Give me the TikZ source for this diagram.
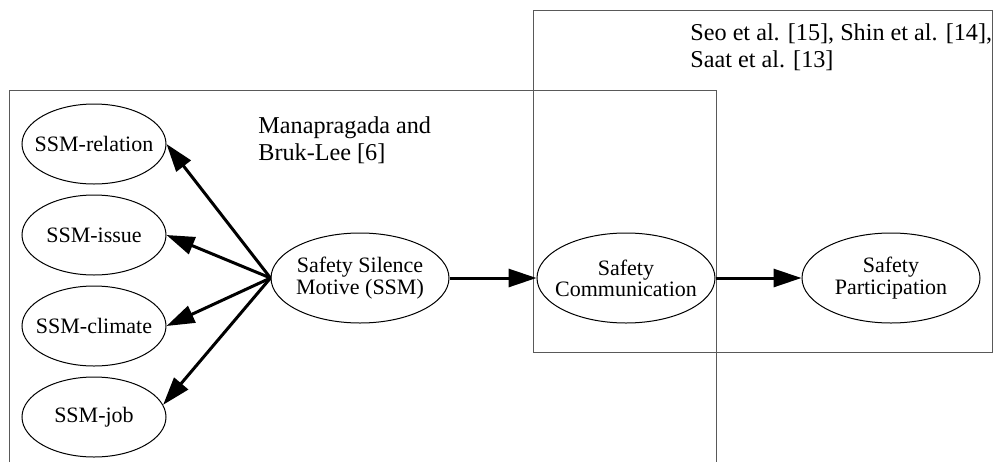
\documentclass[tikz,border=0pt]{standalone}
\usepackage{fontspec}
\setmainfont{Liberation Serif}
\usetikzlibrary{shapes.geometric,arrows.meta}

\begin{document}
\begin{tikzpicture}[x=0.5pt,y=-0.5pt]

      \useasboundingbox (0,0) rectangle (993,462);

      \begin{scope}[draw=black!65, line width=0.5pt]
        \draw (9,462) |- (716,90) -- (716,462);
        \draw (533,10) rectangle (992,352);
      \end{scope}

      \begin{scope}[every node/.style={anchor=north west, inner sep=0pt, align=left, font=\fontsize{12.1}{13.8}\selectfont}]
        \node (manlabel) at (258,116) {Manapragada and\\Bruk-Lee [6]};
        \node (seolabel) at (690,23)  {Seo et al. [15], Shin et al. [14],\\Saat et al. [13]};
      \end{scope}

      \begin{scope}[every node/.style={ellipse, draw, line width=0.5pt, inner xsep=-8pt, inner ysep=0pt,
          minimum width=72pt, minimum height=40pt, align=center, font=\fontsize{11}{10.6}\selectfont}]
        \node (rel)  at (94,144)  {SSM-relation};
        \node (iss)  at (94,235)  {SSM-issue};
        \node (cli)  at (94,326)  {SSM-climate};
        \node (job)  at (94,417)  {SSM-job};
        \node[minimum width=89pt, minimum height=45pt] (ssm)  at (360,278) {Safety Silence\\Motive (SSM)};
        \node[minimum width=89pt, minimum height=45pt] (comm) at (626,278) {Safety\\Communication};
        \node[minimum width=89pt, minimum height=45pt] (part) at (891,278) {Safety\\Participation};
      \end{scope}

      \begin{scope}[every edge/.style={draw, line width=1.5pt, -{Triangle[length=14pt,width=9pt]}}]
        \path (ssm.west)  edge (rel.east);
        \path (ssm.west)  edge (iss.east);
        \path (ssm.west)  edge (cli.east);
        \path (ssm.west)  edge (job.10);
        \path (ssm.east)  edge (comm.west);
        \path (comm.east) edge (part.west);
      \end{scope}

    \end{tikzpicture}
\end{document}
